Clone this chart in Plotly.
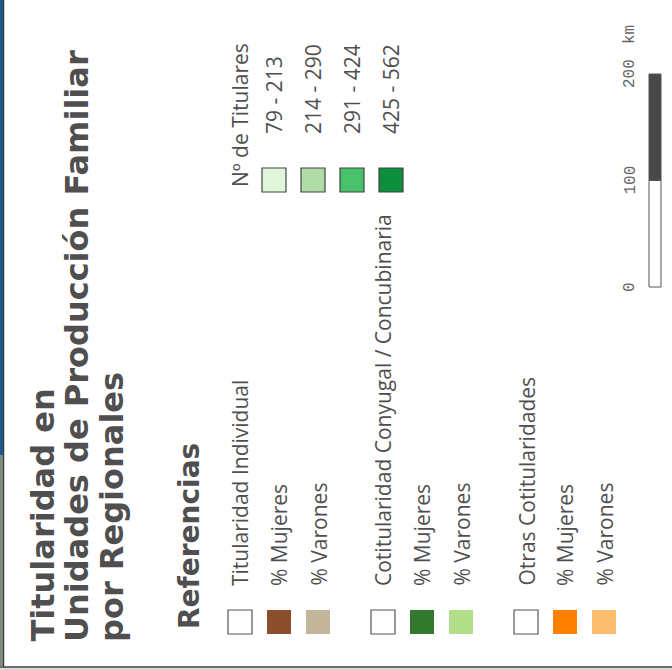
import plotly.graph_objects as go

# ---------------- data ----------------
title_lines = ["Titularidad en", "Unidades de Producción Familiar", "por Regionales"]
ref_title = "Referencias"
group_names = ["Titularidad Individual", "Cotitularidad Conyugal / Concubinaria", "Otras Cotitularidades"]
sub_labels = ["% Mujeres", "% Varones"]
group_colors = [["#8c4f2e", "#c2b59b"], ["#32782f", "#b2df8a"], ["#ff7f00", "#fdbf6f"]]
class_title = "Nº de Titulares"
class_labels = ["79 - 213", "214 - 290", "291 - 424", "425 - 562"]
class_colors = ["#e0f5da", "#b0dda6", "#49c26c", "#0b8f3b"]
scale_ticks = [0, 100, 200]
scale_unit = "km"

# ---------------- layout constants ----------------
W, H = 672, 670
TXT = "#4f4f4f"
FONT_T = "DejaVu Sans"
FONT_L = "Open Sans"

fig = go.Figure()
shapes = []
ann = []

def text(x, y, s, size, family=FONT_L, bold=False, color=TXT, yanchor="bottom"):
    ann.append(dict(x=x, y=y, xref="x", yref="y", text=("<b>%s</b>" % s) if bold else s,
                    showarrow=False, textangle=-90, xanchor="center", yanchor=yanchor,
                    font=dict(family=family, size=size, color=color), borderpad=0))

def box(x0, y0, size, fill, line="#555555", lw=1.2):
    shapes.append(dict(type="rect", xref="x", yref="y", x0=x0, x1=x0 + size, y0=y0, y1=y0 + size,
                       fillcolor=fill, line=dict(color=line, width=lw)))

# frame pieces
shapes.append(dict(type="rect", xref="x", yref="y", x0=0, x1=3, y0=0, y1=455, fillcolor="#1c5a8c", line=dict(width=0)))
shapes.append(dict(type="rect", xref="x", yref="y", x0=0, x1=3, y0=455, y1=666, fillcolor="#808a7b", line=dict(width=0)))
shapes.append(dict(type="line", xref="x", yref="y", x0=3.6, x1=3.6, y0=0, y1=667, line=dict(color="#3a3a3a", width=1.3)))
shapes.append(dict(type="line", xref="x", yref="y", x0=0, x1=W, y0=667, y1=667, line=dict(color="#3a3a3a", width=1.5)))
shapes.append(dict(type="rect", xref="x", yref="y", x0=0, x1=W, y0=668, y1=H, fillcolor="#d8d8d8", line=dict(width=0)))

# title
for i, t in enumerate(title_lines):
    text(42 + 35 * i, 643, t, 32, family=FONT_T, bold=True)
text(189, 630, ref_title, 28, family=FONT_T, bold=True)

# grouped legend
SQ = 24
for g, name in enumerate(group_names):
    gx = 228 + 143 * g
    box(gx, 610, SQ, "#ffffff")
    text(gx + SQ / 2, 587, name, 21)
    for k, lab in enumerate(sub_labels):
        bx = gx + 39 * (k + 1)
        box(bx, 610, SQ, group_colors[g][k], line=group_colors[g][k], lw=0)
        text(bx + SQ / 2, 587, lab, 21)

# class legend
text(240, 188, class_title, 21)
for i, (lab, col) in enumerate(zip(class_labels, class_colors)):
    bx = 262 + 39 * i
    box(bx, 168, SQ, col, line="#444444", lw=1.2)
    text(bx + SQ / 2, 135, lab, 21)

# scale bar
def sy(v):
    return 287 - v * (287 - 74) / scale_ticks[-1]

for a, b, fill in [(scale_ticks[0], scale_ticks[1], "#ffffff"), (scale_ticks[1], scale_ticks[2], "#484848")]:
    shapes.append(dict(type="rect", xref="x", yref="y", x0=649, x1=661, y0=sy(b), y1=sy(a),
                       fillcolor=fill, line=dict(color="#555555", width=1)))
for v in scale_ticks:
    text(630, sy(v), str(v), 16, family="Liberation Mono", color="#666666", yanchor="middle")
text(630, 35, scale_unit, 16, family="Liberation Mono", color="#666666", yanchor="middle")

fig.update_layout(
    width=W, height=H, margin=dict(l=0, r=0, t=0, b=0),
    paper_bgcolor="white", plot_bgcolor="white",
    xaxis=dict(range=[0, W], visible=False, fixedrange=True),
    yaxis=dict(range=[H, 0], visible=False, fixedrange=True),
    shapes=shapes, annotations=ann, showlegend=False,
)
fig.write_html("out.html", config={"displayModeBar": False},
               post_script="document.body.style.margin='0px';document.body.style.overflow='hidden';")
